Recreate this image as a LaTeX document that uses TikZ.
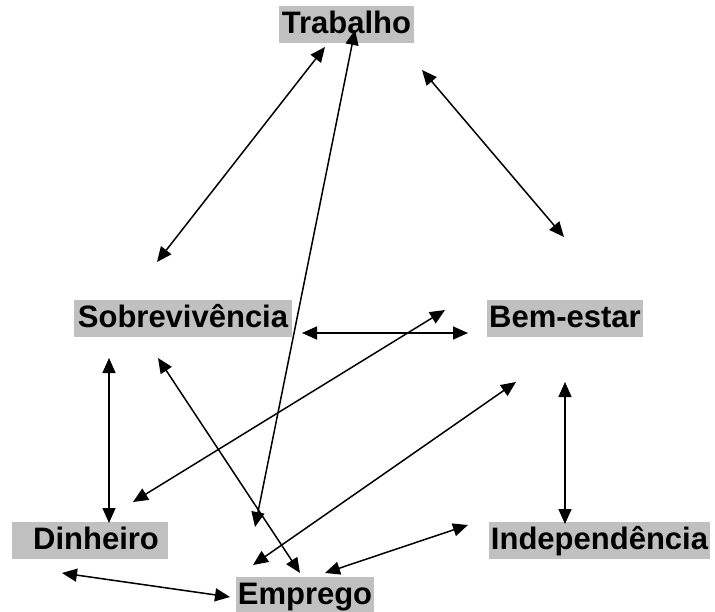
\documentclass[tikz,border=0pt]{standalone}
\usepackage{fontspec}
\setmainfont{Liberation Sans}
\usetikzlibrary{arrows.meta}
\definecolor{boxgray}{RGB}{192,192,192}
\tikzset{
  lbl/.style={fill=boxgray, inner xsep=0pt, inner ysep=1.5pt, text height=26pt, text depth=8pt,
    font=\fontsize{31}{36}\selectfont\bfseries, anchor=center},
  link/.style={line width=1.5pt, {Triangle[length=15pt,width=13pt]}-{Triangle[length=15pt,width=13pt]}}
}
\begin{document}
\begin{tikzpicture}[x=1pt,y=-1pt]
\useasboundingbox (0,0) rectangle (715,612);
\node[lbl, minimum width=135pt] (trab) at (346.5,24.5) {Trabalho};
\node[lbl, minimum width=218pt] (sobr) at (183,318.5) {Sobrevivência};
\node[lbl, minimum width=156pt] (bem) at (565,318.5) {Bem-estar};
\node[lbl, minimum width=156pt] (din) at (90,540) {\hspace*{12pt}Dinheiro};
\node[lbl, minimum width=138pt] (emp) at (305,595.5) {Emprego};
\node[lbl, minimum width=221pt] (ind) at (599.5,540) {Independência};
% connector end points
\coordinate (tS) at (325,47);   \coordinate (sT) at (157,262);
\coordinate (tB) at (422,70);   \coordinate (bT) at (564,237);
\coordinate (tE) at (355,30);   \coordinate (eT) at (255,527);
\coordinate (sB) at (302,333);  \coordinate (bS) at (468,333);
\coordinate (sD) at (109,358);  \coordinate (dS) at (109,523);
\coordinate (bD) at (445,310);  \coordinate (dB) at (133,502);
\coordinate (sE) at (158,358);  \coordinate (eS) at (300,573);
\coordinate (bE) at (516,382);  \coordinate (eB) at (253,565);
\coordinate (bI) at (565,382);  \coordinate (iB) at (565,524);
\coordinate (iE) at (468,525);  \coordinate (eI) at (325,573);
\coordinate (dE) at (62,573);   \coordinate (eD) at (230,597);
\draw[link] (tS) -- (sT);
\draw[link] (tB) -- (bT);
\draw[link] (tE) -- (eT);
\draw[link] (sB) -- (bS);
\draw[link] (sD) -- (dS);
\draw[link] (bD) -- (dB);
\draw[link] (sE) -- (eS);
\draw[link] (bE) -- (eB);
\draw[link] (bI) -- (iB);
\draw[link] (iE) -- (eI);
\draw[link] (dE) -- (eD);
\end{tikzpicture}
\end{document}
